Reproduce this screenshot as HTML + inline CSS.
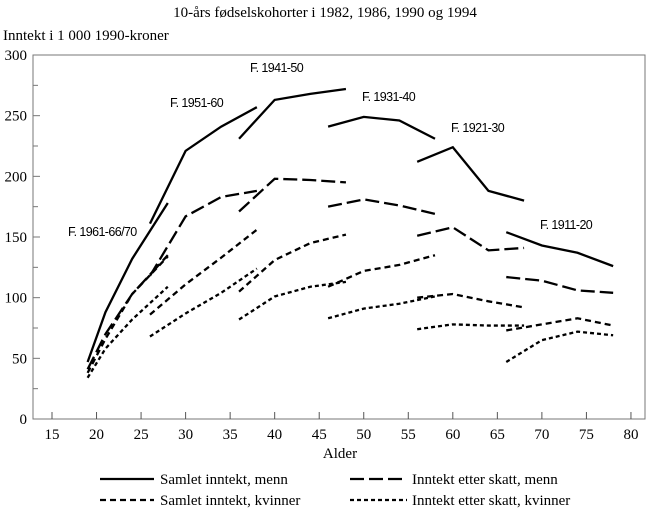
<!DOCTYPE html>
<html><head><meta charset="utf-8"><style>
body{margin:0;background:#fff}
svg text{fill:#000}
.serif{font-family:"Liberation Serif",serif}
.lab{font-family:"Liberation Sans",sans-serif;font-size:12.5px;letter-spacing:-0.6px}
</style></head><body>
<svg id="chart" width="650" height="510" viewBox="0 0 650 510">
<text class="serif" x="325" y="17" font-size="15" text-anchor="middle">10-års fødselskohorter i 1982, 1986, 1990 og 1994</text>
<text class="serif" x="3" y="40" font-size="15">Inntekt i 1 000 1990-kroner</text>
<rect x="33" y="55" width="612" height="364" fill="none" stroke="#777" stroke-width="1"/>
<g id="axes"></g>
<g id="series"></g>
<text class="serif" x="340" y="458" font-size="15" text-anchor="middle">Alder</text>
<g class="serif" font-size="15">
<line x1="100" y1="479" x2="154" y2="479" stroke="#000" stroke-width="2.2"/>
<text x="160" y="484">Samlet inntekt, menn</text>
<line x1="350" y1="479" x2="407" y2="479" stroke="#000" stroke-width="2.2" stroke-dasharray="14,5"/>
<text x="412" y="484">Inntekt etter skatt, menn</text>
<line x1="100" y1="500" x2="154" y2="500" stroke="#000" stroke-width="2.2" stroke-dasharray="6,4"/>
<text x="160" y="505">Samlet inntekt, kvinner</text>
<line x1="350" y1="500" x2="407" y2="500" stroke="#000" stroke-width="2.2" stroke-dasharray="4,3"/>
<text x="412" y="505">Inntekt etter skatt, kvinner</text>
</g>
<g class="lab">
<text x="250" y="72">F. 1941-50</text>
<text x="170" y="107">F. 1951-60</text>
<text x="68" y="236">F. 1961-66/70</text>
<text x="362" y="101">F. 1931-40</text>
<text x="451" y="132">F. 1921-30</text>
<text x="540" y="229">F. 1911-20</text>
</g>
</svg>
<script>
const xTicks=[15,20,25,30,35,40,45,50,55,60,65,70,75,80];
const yTicks=[0,50,100,150,200,250,300];
const cohorts=["1961-70","1951-60","1941-50","1931-40","1921-30","1911-20"];
const ages=[[19,21,24,28],[26,30,34,38],[36,40,44,48],[46,50,54,58],[56,60,64,68],[66,70,74,78]];
const menTotal=[[47,88,132,178],[161,221,241,257],[231,263,268,272],[241,249,246,231],[212,224,188,180],[154,143,137,126]];
const menAfterTax=[[41,70,103,135],[118,167,183,188],[171,198,197,195],[175,181,176,169],[151,158,139,141],[117,114,106,104]];
const womenTotal=[[38,66,103,134],[86,111,133,156],[105,131,145,152],[109,122,127,135],[100,103,97,92],[73,78,83,77]];
const womenAfterTax=[[34,58,82,109],[68,87,104,124],[82,101,109,113],[83,91,95,101],[74,78,77,77],[47,65,72,69]];
function X(a){return 52+(a-15)*8.907;}
function Y(v){return 419-v*1.2133;}
const NS="http://www.w3.org/2000/svg";
const ax=document.getElementById('axes');
xTicks.forEach(t=>{
 const l=document.createElementNS(NS,'line');
 l.setAttribute('x1',X(t));l.setAttribute('x2',X(t));l.setAttribute('y1',419);l.setAttribute('y2',412);
 l.setAttribute('stroke','#555');
 
 
 ax.appendChild(l);
 const tx=document.createElementNS(NS,'text');
 tx.setAttribute('x',X(t));tx.setAttribute('y',439);tx.setAttribute('text-anchor','middle');
 tx.setAttribute('class','serif');tx.setAttribute('font-size','15');tx.textContent=t;
 
 
 ax.appendChild(tx);
});
for(let v=0;v<=300;v+=25){
 const l=document.createElementNS(NS,'line');
 l.setAttribute('x1',33);l.setAttribute('x2',v%50===0?40:38);l.setAttribute('y1',Y(v));l.setAttribute('y2',Y(v));
 l.setAttribute('stroke','#777');
 
 
 ax.appendChild(l);
}
yTicks.forEach(t=>{
 const tx=document.createElementNS(NS,'text');
 tx.setAttribute('x',27);tx.setAttribute('y',Y(t)+5);tx.setAttribute('text-anchor','end');
 tx.setAttribute('class','serif');tx.setAttribute('font-size','15');tx.textContent=t;
 
 
 ax.appendChild(tx);
});
const sg=document.getElementById('series');
const defs=[[menTotal,'none','men-total'],[menAfterTax,'14,5','men-after-tax'],[womenTotal,'6,4','women-total'],[womenAfterTax,'4,3','women-after-tax']];
defs.forEach(([data,dash,name])=>{
 data.forEach((vals,ci)=>{
  const p=document.createElementNS(NS,'polyline');
  p.setAttribute('points',vals.map((v,i)=>X(ages[ci][i])+','+Y(v)).join(' '));
  p.setAttribute('fill','none');p.setAttribute('stroke','#000');p.setAttribute('stroke-width','2.3');
  if(dash!=='none')p.setAttribute('stroke-dasharray',dash);
  
  
  sg.appendChild(p);
 });
});
</script>
</body></html>
